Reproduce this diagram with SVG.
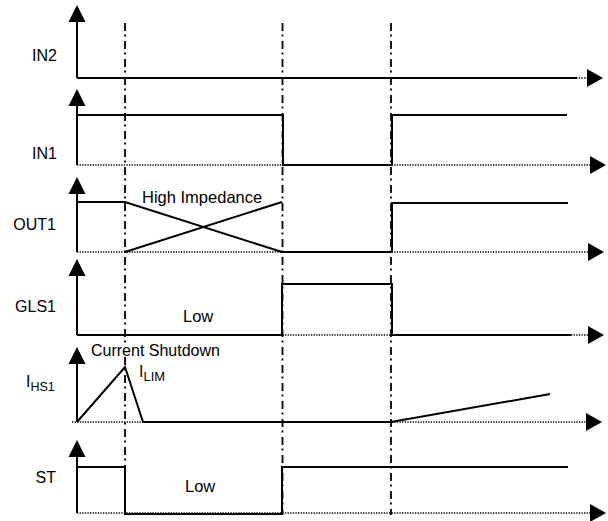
<svg xmlns="http://www.w3.org/2000/svg" width="608" height="521" viewBox="0 0 608 521">
<style>
  .bg{fill:#fff}
  .axis{stroke:#000;stroke-width:2;fill:none}
  .base{stroke:#000;stroke-width:1.5;stroke-dasharray:1.3,1.3;fill:none}
  .sig{stroke:#000;stroke-width:2;fill:none;stroke-linejoin:miter}
  .mark{stroke:#000;stroke-width:1.8;stroke-dasharray:8,3.5,2,4.5;fill:none}
  .head{fill:#000}
  text{font-family:"Liberation Sans",Arial,sans-serif;fill:#000}
  .lbl{font-size:16px;text-anchor:end}
  .ann{font-size:16.5px}
</style>
<rect class="bg" x="0" y="0" width="608" height="521"/>

<g id="markers">
  <path class="mark" d="M125,23 V343 M125,357 V515"/>
  <path class="mark" d="M282.5,23 V515"/>
  <path class="mark" d="M391,23 V515"/>
</g>

<g id="IN2">
  <path class="axis" d="M77,20 V78"/>
  <polygon class="head" points="77,5 68.5,22 85.5,22"/>
  <path class="base" d="M77,78 H589"/>
  <polygon class="head" points="603,78 587,69 587,87"/>
  <path class="sig" d="M77,78 H577"/>
  <text class="lbl" x="57" y="61">IN2</text>
</g>

<g id="IN1">
  <path class="axis" d="M77,104 V165"/>
  <polygon class="head" points="77,89 68.5,106 85.5,106"/>
  <path class="base" d="M77,165 H591"/>
  <polygon class="head" points="606,165 590,156 590,174"/>
  <path class="sig" d="M77,115 H283 V165 H392 V115 H567"/>
  <text class="lbl" x="57" y="159">IN1</text>
</g>

<g id="OUT1">
  <path class="axis" d="M77,193 V252"/>
  <polygon class="head" points="77,177 68.5,194 85.5,194"/>
  <path class="base" d="M77,252 H589"/>
  <polygon class="head" points="604,252 588,243 588,261"/>
  <path class="sig" d="M77,202 H125 L282,252 H392 V203 H568"/>
  <path class="sig" d="M125,252 L282,202"/>
  <text class="lbl" x="56" y="230">OUT1</text>
  <text class="ann" x="142" y="203">High Impedance</text>
</g>

<g id="GLS1">
  <path class="axis" d="M77,275 V335"/>
  <polygon class="head" points="77,259 68.5,276 85.5,276"/>
  <path class="base" d="M77,335 H589"/>
  <polygon class="head" points="604,335 588,326 588,344"/>
  <path class="sig" d="M77,335 H282 V284 H392 V335 H571"/>
  <text class="lbl" x="56" y="312">GLS1</text>
  <text class="ann" x="183" y="322">Low</text>
</g>

<g id="IHS1">
  <path class="axis" d="M77,362 V422"/>
  <polygon class="head" points="77,347 68.5,364 85.5,364"/>
  <path class="base" d="M72,422 H588"/>
  <polygon class="head" points="602,422 586,413 586,431"/>
  <path class="sig" d="M77,422 L125,367 L143,422 H391 L550,394"/>
  <text x="26" y="387" style="font-size:16px">I<tspan dy="4" style="font-size:12.5px">HS1</tspan></text>
  <text x="91" y="356" style="font-size:16px">Current Shutdown</text>
  <text x="139" y="377" style="font-size:16px">I<tspan dy="4" style="font-size:13px">LIM</tspan></text>
</g>

<g id="ST">
  <path class="axis" d="M77,455 V513"/>
  <polygon class="head" points="77,440 68.5,457 85.5,457"/>
  <path class="base" d="M77,513 H591"/>
  <polygon class="head" points="606,513 590,504 590,522"/>
  <path class="sig" d="M77,467 H125 V514 H282 V467 H568"/>
  <text class="lbl" x="56" y="483">ST</text>
  <text class="ann" x="185" y="492">Low</text>
</g>
</svg>
